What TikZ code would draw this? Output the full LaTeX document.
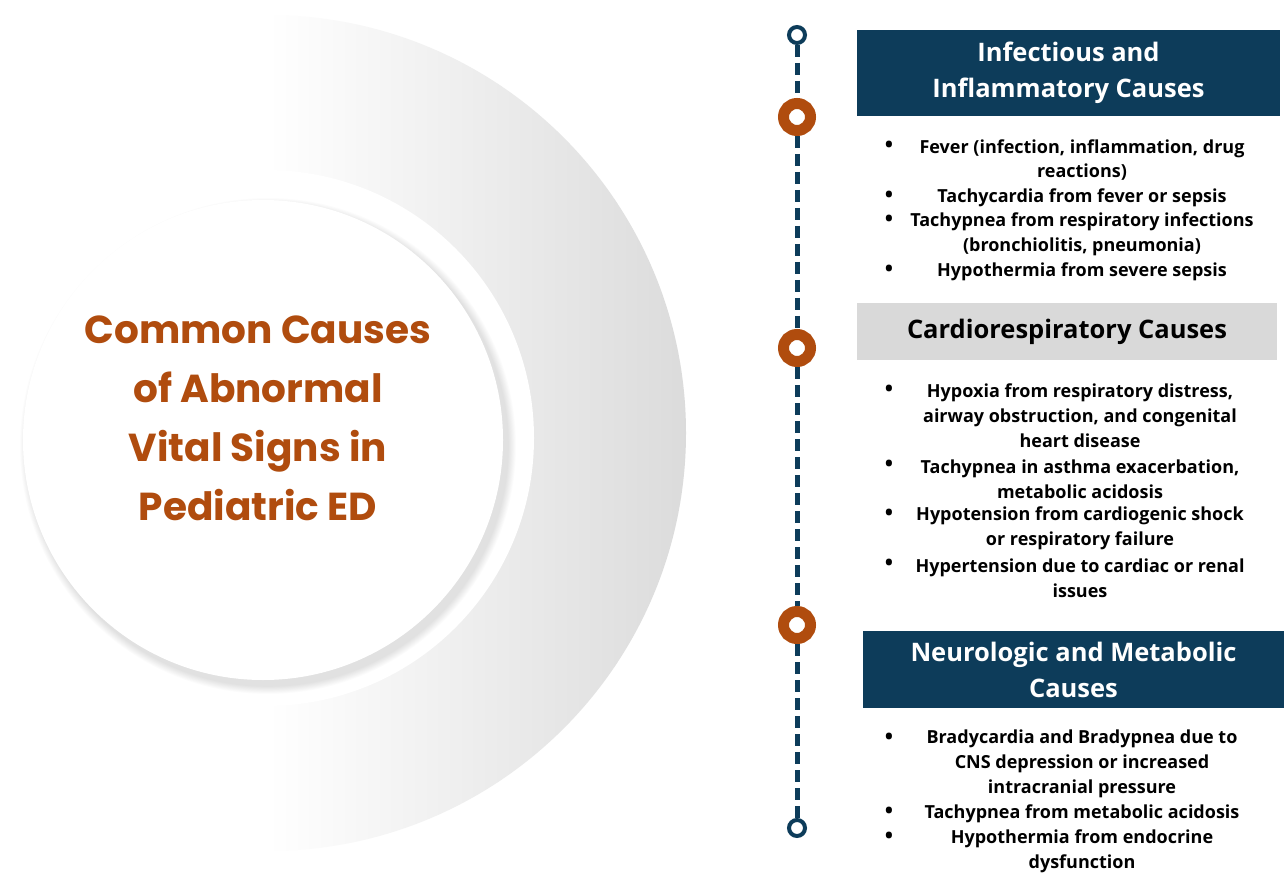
\documentclass[tikz,border=0pt]{standalone}
\usepackage{fontspec}
\setmainfont{Open Sans}
\newfontfamily\titlefont{Poppins}
\usetikzlibrary{positioning}

\definecolor{rust}{HTML}{B04C0E}
\definecolor{navy}{HTML}{0D3C5A}
\definecolor{panel}{HTML}{D9D9D9}

\tikzset{
	header/.style={fill=navy, text=white, font=\bfseries\fontsize{25.5}{36}\selectfont, align=center, inner sep=0pt},
	item/.style={font=\bfseries\fontsize{18}{24.8}\selectfont, align=center, inner sep=0pt},
	dot/.style={font=\bfseries\fontsize{22}{20}\selectfont, inner sep=0pt},
	ring/.style={circle, draw=rust, line width=11pt, fill=white, minimum size=27pt, inner sep=0pt},
	endcap/.style={circle, draw=navy, line width=4pt, fill=white, minimum size=16pt, inner sep=0pt},
	timeline/.style={navy, line width=5pt, dash pattern=on 12pt off 6pt},
}

\begin{document}
\begin{tikzpicture}[x=1pt, y=-1pt]
	\useasboundingbox[fill=white] (0,0) rectangle (1287,874);

	% grey backdrop and the white disc
	\shade[left color=white, right color=black!14] (268,15) arc[start angle=-90, end angle=90, radius=418] -- cycle;
	\node[circle, fill=white, minimum size=536pt, inner sep=0pt] (hole) at (266,438) {};
	\foreach \k in {1,...,10}
		\node[circle, fill=black, opacity=0.012, minimum size={480pt+1.6pt*\k}, inner sep=0pt] at (268,446) {};
	\node[circle, fill=white, minimum size=480pt, inner sep=0pt] (hub) at (263,440) {};
	\node[text=rust, font=\titlefont\bfseries\fontsize{39}{59}\selectfont, align=center] (title) at (258,418) {Common Causes\\of Abnormal\\Vital Signs in\\Pediatric ED};

	% timeline
	\node[endcap] (top) at (797,35) {};
	\node[ring] (r1) at (797,117) {};
	\node[ring] (r2) at (797,348) {};
	\node[ring] (r3) at (797,625) {};
	\node[endcap] (bot) at (797,828) {};
	\draw[timeline] (top) -- (r1);
	\draw[timeline] (r1) -- (r2);
	\draw[timeline] (r2) -- (r3);
	\draw[timeline] (r3) -- (bot);

	% headers
	\node[header, minimum width=423pt, minimum height=86pt] (h1) at (1068.5,73) {Infectious and\\Inflammatory Causes};
	\node[header, fill=panel, text=black, minimum width=420pt, minimum height=57pt] (h2) at (1067,331.5) {Cardiorespiratory Causes};
	\node[header, minimum width=421pt, minimum height=77pt] (h3) at (1073.5,669.5) {Neurologic and Metabolic\\Causes};

	% infectious and inflammatory
	\node[item] (i11) at (1082,160) {Fever (infection, inflammation, drug\\reactions)};
	\node[item] (i12) at (1082,198) {Tachycardia from fever or sepsis};
	\node[item] (i13) at (1082,234) {Tachypnea from respiratory infections\\(bronchiolitis, pneumonia)};
	\node[item] (i14) at (1082,272) {Hypothermia from severe sepsis};
	\node[dot] (d11) at (889,147) {\textbullet};
	\node[dot] (d12) at (889,197) {\textbullet};
	\node[dot] (d13) at (889,221) {\textbullet};
	\node[dot] (d14) at (889,271) {\textbullet};

	% cardiorespiratory
	\node[item] (i21) at (1080,416) {Hypoxia from respiratory distress,\\airway obstruction, and congenital\\heart disease};
	\node[item] (i22) at (1080,479) {Tachypnea in asthma exacerbation,\\metabolic acidosis};
	\node[item] (i23) at (1080,528.5) {Hypotension from cardiogenic shock\\or respiratory failure};
	\node[item] (i24) at (1080,578.5) {Hypertension due to cardiac or renal\\issues};
	\node[dot] (d21) at (889,391) {\textbullet};
	\node[dot] (d22) at (889,466) {\textbullet};
	\node[dot] (d23) at (889,515) {\textbullet};
	\node[dot] (d24) at (889,565) {\textbullet};

	% neurologic and metabolic
	\node[item] (i31) at (1082,764) {Bradycardia and Bradypnea due to\\CNS depression or increased\\intracranial pressure};
	\node[item] (i32) at (1082,814) {Tachypnea from metabolic acidosis};
	\node[item] (i33) at (1082,851) {Hypothermia from endocrine\\dysfunction};
	\node[dot] (d31) at (889,739) {\textbullet};
	\node[dot] (d32) at (889,813) {\textbullet};
	\node[dot] (d33) at (889,838) {\textbullet};
\end{tikzpicture}
\end{document}
